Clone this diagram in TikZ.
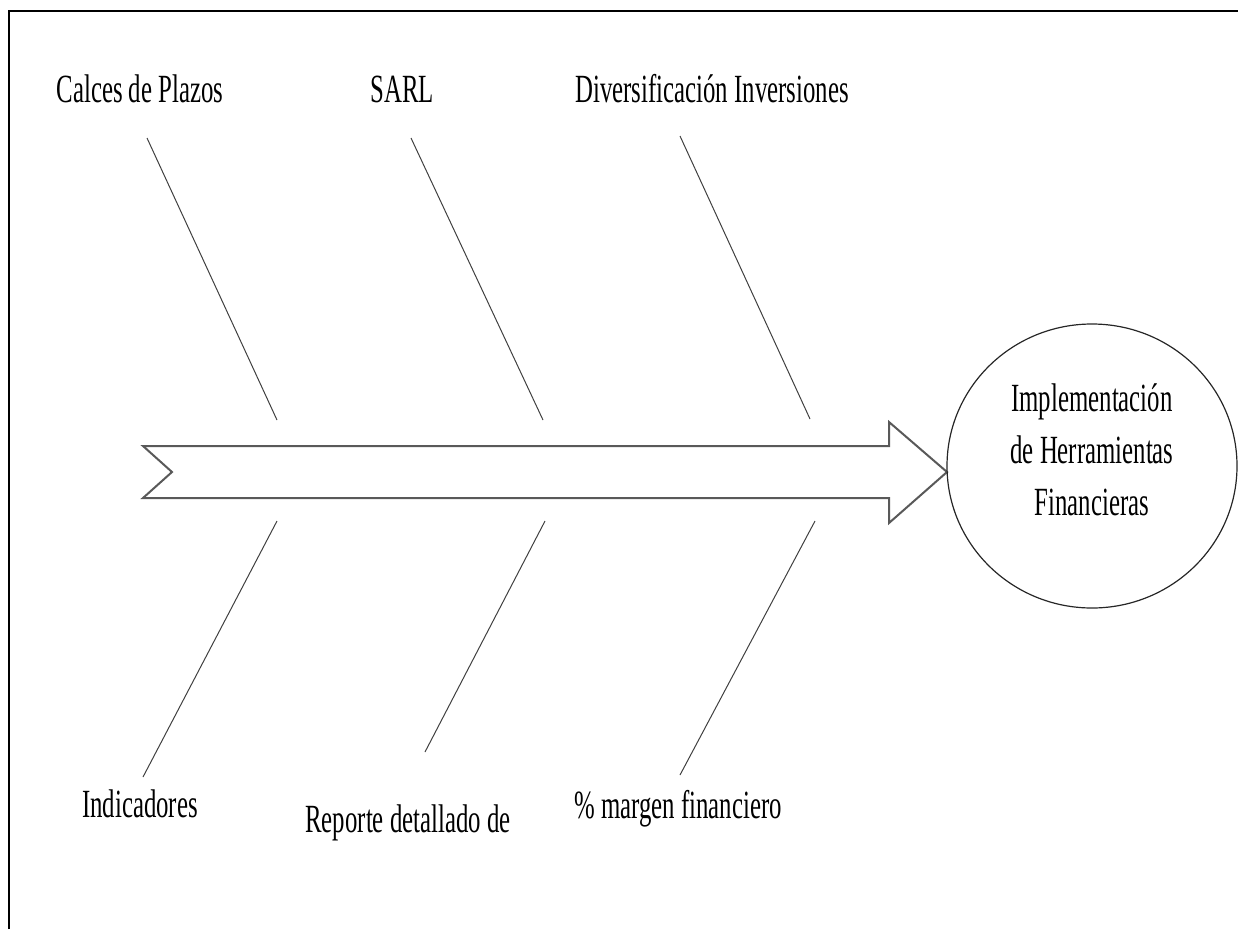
\documentclass[tikz,border=0pt]{standalone}
\usepackage{fontspec}
\setmainfont[FakeStretch=0.62]{Liberation Serif}
\usetikzlibrary{shapes.geometric}
\begin{document}
\begin{tikzpicture}[x=1pt,y=-1pt,
  lbl/.style={font=\fontsize{40}{53}\selectfont, inner sep=0pt, anchor=base},
  bone/.style={draw=black!75, line width=1pt},
  spine/.style={draw=black!65, line width=2pt, line join=miter},
  frameline/.style={draw=black, line width=2pt}]
\useasboundingbox (0,0) rectangle (1238,929);
% frame (top and left)
\coordinate (fa) at (9,929);
\coordinate (fb) at (9,11);
\coordinate (fc) at (1238,11);
\draw[frameline] (fa) -- (fb) -- (fc);
% main arrow
\draw[spine] (143,446) -- (889,446) -- (889,422) -- (947,472) -- (889,523) -- (889,498) -- (143,498) -- (172,472) -- cycle;
% effect ellipse
\node[draw=black!85, line width=1.2pt, ellipse, minimum width=290pt, minimum height=284pt, inner sep=0pt] (eff) at (1092,466) {};
\node[font=\fontsize{40}{52}\selectfont, align=center, inner sep=0pt] (efftext) at (1092,450) {Implementación\\de Herramientas\\Financieras};
% labels
\node[lbl] (l1) at (140,102) {Calces de Plazos};
\node[lbl] (l2) at (402,102) {SARL};
\node[lbl] (l3) at (712,102) {Diversificación Inversiones};
\node[lbl] (l4) at (140,817) {Indicadores};
\node[lbl] (l5) at (408,832) {Reporte detallado de};
\node[lbl] (l6) at (678,818) {\% margen financiero};
% bone endpoints
\coordinate (u1a) at (147,138); \coordinate (u1b) at (277,420);
\coordinate (u2a) at (411,138); \coordinate (u2b) at (543,420);
\coordinate (u3a) at (680,136); \coordinate (u3b) at (810,419);
\coordinate (d1a) at (277,521); \coordinate (d1b) at (143,777);
\coordinate (d2a) at (545,521); \coordinate (d2b) at (425,752);
\coordinate (d3a) at (815,521); \coordinate (d3b) at (680,775);
\draw[bone] (u1a) -- (u1b);
\draw[bone] (u2a) -- (u2b);
\draw[bone] (u3a) -- (u3b);
\draw[bone] (d1a) -- (d1b);
\draw[bone] (d2a) -- (d2b);
\draw[bone] (d3a) -- (d3b);
\end{tikzpicture}
\end{document}
